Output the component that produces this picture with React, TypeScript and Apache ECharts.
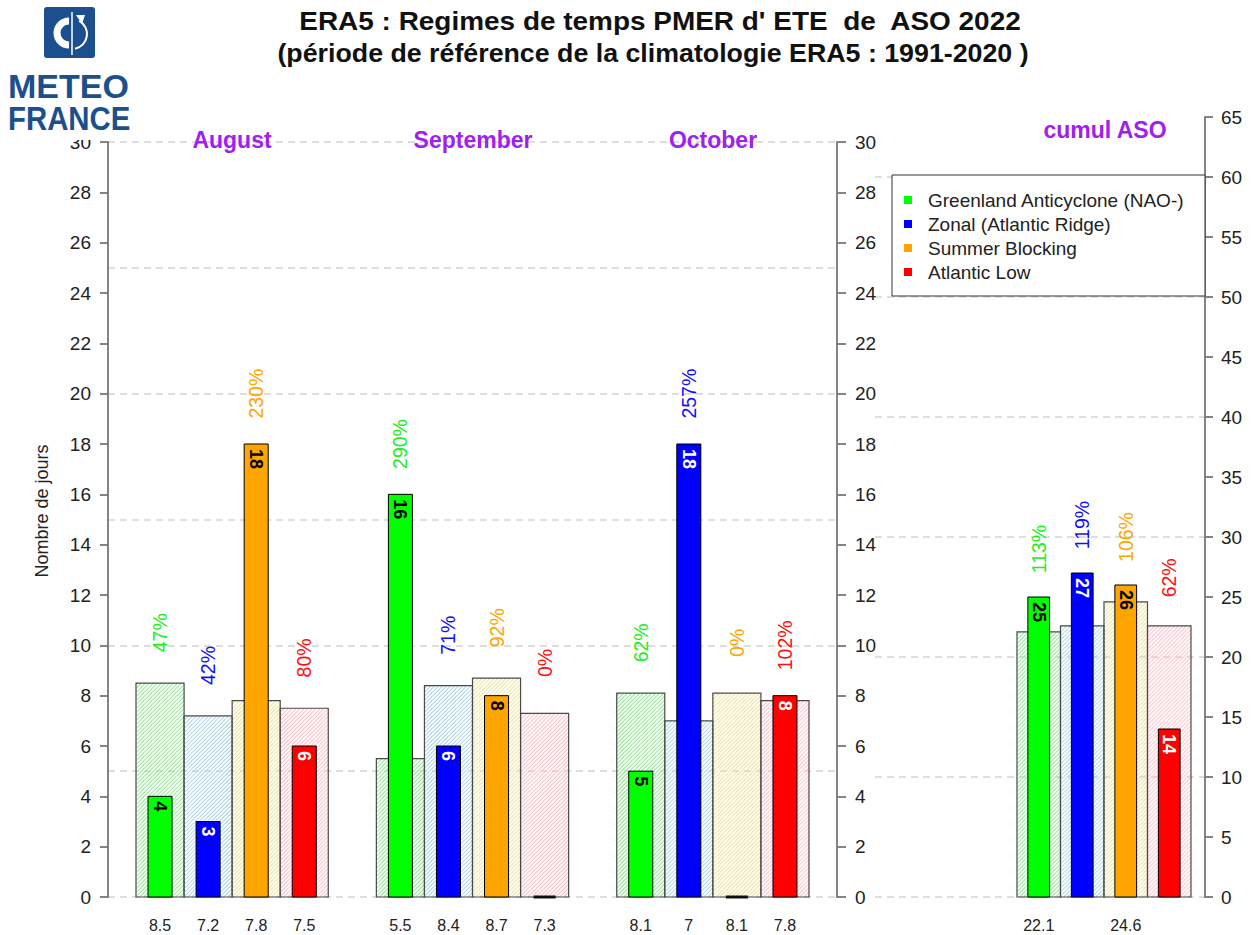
import React, { useEffect, useRef } from "react";
import * as echarts from "echarts";

// ---------------- data ----------------
const months = ["August", "September", "October"];
const regimes = [
  "Greenland Anticyclone (NAO-)",
  "Zonal (Atlantic Ridge)",
  "Summer Blocking",
  "Atlantic Low",
];
const observedAugust = [4, 3, 18, 6];
const observedSeptember = [16, 6, 8, 0];
const observedOctober = [5, 18, 0, 8];
const climAugust = [8.5, 7.2, 7.8, 7.5];
const climSeptember = [5.5, 8.4, 8.7, 7.3];
const climOctober = [8.1, 7, 8.1, 7.8];
const pctAugust = ["47%", "42%", "230%", "80%"];
const pctSeptember = ["290%", "71%", "92%", "0%"];
const pctOctober = ["62%", "257%", "0%", "102%"];
const observedCumul = [25, 27, 26, 14];
const climCumul = [22.1, 22.6, 24.6, 22.6];
const pctCumul = ["113%", "119%", "106%", "62%"];
const climCumulLabels = ["22.1", "", "24.6", ""];
const cumulTitle = "cumul ASO";
const titleLine1 = "ERA5 : Regimes de temps PMER d' ETE  de  ASO 2022";
const titleLine2 = "(période de référence de la climatologie ERA5 : 1991-2020 )";
const yAxisName = "Nombre de jours";

// ---------------- styles ----------------
const FONT = "'Liberation Sans', Arial, Helvetica, sans-serif";
const obsColors = ["#00FF00", "#0000FF", "#FFA500", "#FF0000"];
const pctColors = ["#22EE22", "#1010FF", "#FFA500", "#FF1010"];
const obsLabelColors = ["#000000", "#FFFFFF", "#000000", "#FFFFFF"];
const hatchColors = ["#8ee88e", "#acd4ea", "#ebe19c", "#ffbcc6"];
const PURPLE = "#A020F0";
const LOGO_BLUE = "#1C4F8D";

const observedByMonth = [observedAugust, observedSeptember, observedOctober];
const climByMonth = [climAugust, climSeptember, climOctober];
const pctByMonth = [pctAugust, pctSeptember, pctOctober];

// records: [xCenter, clim, obs, regimeIndex]
const monthlyData: number[][] = [];
const monthlyPct: string[] = [];
const monthlyBottom: string[] = [];
months.forEach((_, g) => {
  for (let k = 0; k < 4; k++) {
    monthlyData.push([g * 5 + k + 0.5, climByMonth[g][k], observedByMonth[g][k], k]);
    monthlyPct.push(pctByMonth[g][k]);
    monthlyBottom.push(String(climByMonth[g][k]));
  }
});
const cumulData: number[][] = observedCumul.map((o, k) => [k + 0.5, climCumul[k], o, k]);

// clip a convex polygon to the half plane f(p) >= 0 (f linear)
function clipHalf(poly: number[][], f: (p: number[]) => number) {
  const out: number[][] = [];
  for (let i = 0; i < poly.length; i++) {
    const a = poly[i];
    const b = poly[(i + 1) % poly.length];
    const fa = f(a), fb = f(b);
    if (fa >= 0) out.push(a);
    if ((fa >= 0) !== (fb >= 0)) {
      const t = fa / (fa - fb);
      out.push([a[0] + t * (b[0] - a[0]), a[1] + t * (b[1] - a[1])]);
    }
  }
  return out;
}

// diagonal hatch stripes ("/") clipped to a rectangle, as filled polygons
function hatchStripes(x0: number, x1: number, yt: number, yb: number, color: string) {
  const step = 4;
  const w = 1.35;
  const rect = [[x0, yt], [x1, yt], [x1, yb], [x0, yb]];
  const out: any[] = [];
  let c = Math.floor((x0 + yt) / step) * step - step;
  for (; c <= x1 + yb; c += step) {
    let poly = clipHalf(rect, (p) => p[0] + p[1] - c);
    poly = clipHalf(poly, (p) => c + w - p[0] - p[1]);
    if (poly.length >= 3) {
      out.push({ type: "polygon", silent: true, shape: { points: poly }, style: { fill: color, stroke: "none" } });
    }
  }
  return out;
}

function climRender(params: any, api: any) {
  const x = api.value(0);
  const clim = api.value(1);
  const k = api.value(3);
  const pa = api.coord([x - 0.5, clim]);
  const pb = api.coord([x + 0.5, 0]);
  const x0 = pa[0], yt = pa[1], x1 = pb[0], yb = pb[1];
  return {
    type: "group",
    children: [
      ...hatchStripes(x0, x1, yt, yb, hatchColors[k]),
      {
        type: "rect",
        shape: { x: x0, y: yt, width: x1 - x0, height: yb - yt },
        style: { fill: "none", stroke: "#4a4a4a", lineWidth: 1.2 },
      },
    ],
  };
}

function makeObsRender(pcts: string[], bottoms: string[], offset: number) {
  return (params: any, api: any) => {
    const x = api.value(0);
    const clim = api.value(1);
    const obs = api.value(2);
    const k = api.value(3);
    const pa = api.coord([x - 0.25, obs]);
    const pb = api.coord([x + 0.25, 0]);
    const x0 = pa[0], yt = pa[1], x1 = pb[0], yb = pb[1];
    const cx = (x0 + x1) / 2;
    const children: any[] = [];
    if (obs > 0) {
      children.push({
        type: "rect",
        shape: { x: x0, y: yt, width: x1 - x0, height: yb - yt },
        style: { fill: obsColors[k], stroke: "#000", lineWidth: 1 },
      });
      children.push({
        type: "text",
        x: cx,
        y: yt + 5,
        rotation: -Math.PI / 2,
        style: {
          text: String(obs),
          fill: obsLabelColors[k],
          font: `bold 18px ${FONT}`,
          align: "left",
          verticalAlign: "middle",
        },
      });
    } else {
      children.push({
        type: "rect",
        shape: { x: x0 + 1, y: yb - 1.5, width: x1 - x0 - 2, height: 3 },
        style: { fill: "#111" },
      });
    }
    const pp = api.coord([x, Math.max(clim, obs) + offset]);
    children.push({
      type: "text",
      x: cx,
      y: pp[1],
      rotation: Math.PI / 2,
      style: {
        text: pcts[params.dataIndex],
        fill: pctColors[k],
        font: `19.5px ${FONT}`,
        align: "center",
        verticalAlign: "middle",
      },
    });
    const lab = bottoms[params.dataIndex];
    if (lab) {
      children.push({
        type: "text",
        x: cx,
        y: yb + 28,
        style: {
          text: lab,
          fill: "#222",
          font: `16px ${FONT}`,
          align: "center",
          verticalAlign: "middle",
        },
      });
    }
    return { type: "group", children };
  };
}

const axisLineStyle = { color: "#777", width: 1.8 };

export default function App() {
  const ref = useRef<HTMLDivElement>(null);
  useEffect(() => {
    if (!ref.current) return;
    const chart = echarts.init(ref.current, undefined, { renderer: "svg" });
    const labelStyle = { fontSize: 19, color: "#222", fontFamily: FONT };
    const dashed = { color: "#d4d4d4", width: 1.5, type: [7, 5] };
    const option: any = {
      animation: false,
      backgroundColor: "#fff",
      textStyle: { fontFamily: FONT },
      grid: [
        { left: 108, top: 142, width: 729, height: 755 },
        { left: 875, top: 117, width: 330, height: 780 },
      ],
      xAxis: [
        { gridIndex: 0, type: "value", min: -0.5825, max: 14.5825, show: false },
        { gridIndex: 1, type: "value", min: -3.264, max: 4.322, show: false },
      ],
      yAxis: [
        {
          gridIndex: 0, type: "value", position: "left", min: 0, max: 30, interval: 2,
          axisLine: { show: true, onZero: false, lineStyle: axisLineStyle },
          axisTick: { show: true, length: 8, lineStyle: axisLineStyle },
          axisLabel: { ...labelStyle, margin: 17 },
          splitLine: { show: false },
        },
        {
          gridIndex: 0, type: "value", position: "right", min: 0, max: 30, interval: 2,
          axisLine: { show: true, onZero: false, lineStyle: axisLineStyle },
          axisTick: { show: true, length: 9, lineStyle: axisLineStyle },
          axisLabel: { ...labelStyle, margin: 18 },
          splitLine: { show: false },
        },
        {
          gridIndex: 0, type: "value", position: "left", min: 0, max: 30, interval: 5,
          axisLine: { show: false, onZero: false }, axisTick: { show: false }, axisLabel: { show: false },
          splitLine: { show: true, lineStyle: dashed },
        },
        {
          gridIndex: 1, type: "value", position: "right", min: 0, max: 65, interval: 5,
          axisLine: { show: true, onZero: false, lineStyle: axisLineStyle },
          axisTick: { show: true, length: 8, lineStyle: axisLineStyle },
          axisLabel: { ...labelStyle, margin: 16 },
          splitLine: { show: false },
        },
        {
          gridIndex: 1, type: "value", position: "left", min: 0, max: 65, interval: 10,
          axisLine: { show: false, onZero: false }, axisTick: { show: false }, axisLabel: { show: false },
          splitLine: { show: true, showMaxLine: false, lineStyle: dashed },
        },
      ],
      series: [
        {
          type: "custom", name: "climMonthly", xAxisIndex: 0, yAxisIndex: 0,
          renderItem: climRender, data: monthlyData, z: 2,
        },
        {
          type: "custom", name: "obsMonthly", xAxisIndex: 0, yAxisIndex: 0,
          renderItem: makeObsRender(monthlyPct, monthlyBottom, 2), data: monthlyData, z: 3,
        },
        {
          type: "custom", name: "climCumul", xAxisIndex: 1, yAxisIndex: 3,
          renderItem: climRender, data: cumulData, z: 2,
        },
        {
          type: "custom", name: "obsCumul", xAxisIndex: 1, yAxisIndex: 3,
          renderItem: makeObsRender(pctCumul, climCumulLabels, 4), data: cumulData, z: 3,
        },
      ],
      graphic: [
        // titles
        {
          type: "text", x: 660, y: 21, z: 100, scaleX: 1.075,
          style: { text: titleLine1, font: `bold 26px ${FONT}`, fill: "#111", align: "center", verticalAlign: "middle" },
        },
        {
          type: "text", x: 653, y: 53, z: 100, scaleX: 1.03,
          style: { text: titleLine2, font: `bold 26px ${FONT}`, fill: "#111", align: "center", verticalAlign: "middle" },
        },
        // month titles
        ...months.map((m, g) => ({
          type: "text", x: [232, 473, 713][g], y: 140, z: 100,
          style: { text: m, font: `bold 23px ${FONT}`, fill: PURPLE, align: "center", verticalAlign: "middle" },
        })),
        {
          type: "text", x: 1105, y: 130, z: 100,
          style: { text: cumulTitle, font: `bold 23px ${FONT}`, fill: PURPLE, align: "center", verticalAlign: "middle" },
        },
        // y axis name
        {
          type: "text", x: 42, y: 511, rotation: Math.PI / 2, z: 100,
          style: { text: yAxisName, font: `18px ${FONT}`, fill: "#222", align: "center", verticalAlign: "middle" },
        },
        // legend
        {
          type: "rect", z: 100,
          shape: { x: 892, y: 175, width: 313, height: 121 },
          style: { fill: "#fff", stroke: "#333", lineWidth: 1 },
        },
        ...regimes.flatMap((r, k) => [
          {
            type: "rect", z: 101,
            shape: { x: 904, y: 196 + k * 24, width: 8, height: 8 },
            style: { fill: obsColors[k] },
          },
          {
            type: "text", x: 928, y: 200 + k * 24, z: 101,
            style: { text: r, font: `19px ${FONT}`, fill: "#222", align: "left", verticalAlign: "middle" },
          },
        ]),
        // logo
        { type: "rect", z: 100, shape: { x: 0, y: 0, width: 136, height: 140 }, style: { fill: "#fff" } },
        { type: "rect", z: 101, shape: { x: 44, y: 7, width: 51, height: 51, r: 3 }, style: { fill: LOGO_BLUE } },
        {
          type: "arc", z: 102,
          shape: { cx: 69, cy: 33, r: 12, startAngle: Math.PI / 2, endAngle: (3 * Math.PI) / 2, clockwise: true },
          style: { stroke: "#fff", lineWidth: 7, fill: "none" },
        },
        {
          type: "line", z: 102,
          shape: { x1: 72, y1: 12, x2: 72, y2: 55 },
          style: { stroke: "#fff", lineWidth: 1.5 },
        },
        {
          type: "arc", z: 102,
          shape: { cx: 72, cy: 34, r: 15, startAngle: -Math.PI / 2 + 0.5, endAngle: Math.PI / 2 - 0.2, clockwise: true },
          style: { stroke: "#fff", lineWidth: 2, fill: "none" },
        },
        {
          type: "polygon", z: 102,
          shape: { points: [[76, 15], [85, 15], [82, 24]] },
          style: { fill: "#fff" },
        },
        {
          type: "text", x: 8, y: 86, z: 101,
          style: { text: "METEO", font: `bold 34px ${FONT}`, fill: LOGO_BLUE, align: "left", verticalAlign: "middle" },
        },
        {
          type: "text", x: 8, y: 119, z: 101, scaleX: 0.89,
          style: { text: "FRANCE", font: `bold 33px ${FONT}`, fill: LOGO_BLUE, align: "left", verticalAlign: "middle" },
        },
      ],
    };
    chart.setOption(option);
    return () => chart.dispose();
  }, []);
  return <div ref={ref} style={{ width: 1254, height: 935, position: "absolute", left: 0, top: 0 }} />;
}
